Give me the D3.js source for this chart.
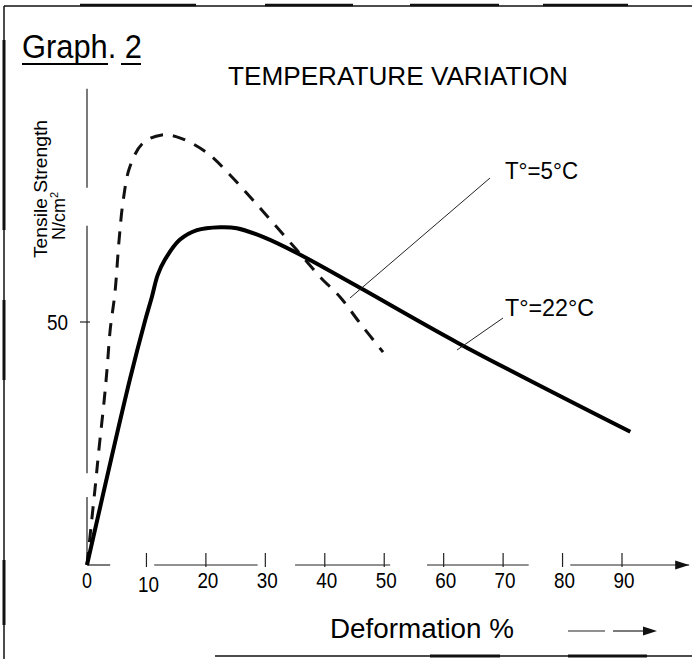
<!DOCTYPE html>
<html>
<head>
<meta charset="utf-8">
<script src="https://cdn.jsdelivr.net/npm/d3@7"></script>
<style>
  html, body { margin: 0; padding: 0; background: #fff; }
  svg { display: block; }
  text { font-family: "Liberation Sans", Arial, sans-serif; fill: #000; }
</style>
</head>
<body>
<svg id="chart" width="692" height="659"></svg>
<script>
// Deformation (%) axis ticks and tensile strength (N/cm²) ticks
const xTicks = [0, 10, 20, 30, 40, 50, 60, 70, 80, 90];
const yTicks = [50];

// T° = 5°C (dashed curve)
const strain5 = [0, 0.8, 1.5, 2.0, 2.9, 3.4, 3.9, 4.7, 5.4, 6.1, 7.2, 9.4, 12.6, 15.6, 20.2, 24.1, 27.9, 31.3, 35.3, 39.2, 42.6, 45.9, 49.8];
const stress5 = [0, 9.3, 17.5, 23.7, 34.0, 40.7, 48.4, 56.0, 66.9, 75.1, 81.9, 86.8, 88.5, 87.9, 84.8, 80.2, 75.1, 70.4, 64.8, 59.3, 55.1, 49.8, 43.8];

// T° = 22°C (solid curve)
const strain22 = [0, 7.2, 9.8, 10.9, 11.9, 13.1, 15.6, 18.5, 22.4, 25.2, 29.6, 35.3, 45.4, 62.4, 91.4];
const stress22 = [0, 38.1, 50.4, 55.1, 59.7, 62.8, 66.9, 68.9, 69.5, 69.3, 67.5, 64.2, 57.4, 45.7, 27.4];

// Hand-drawn axis: visible stretches of each axis line (data units)
const xAxisRuns = [[0, 3.9], [11.3, 28.7], [35, 51], [57.2, 74.3], [81.3, 101.3]];
const yAxisRuns = [[0, 14], [18.9, 69.8], [77.6, 98]];

const svg = d3.select("#chart");
const x = d3.scaleLinear().domain([0, 90]).range([87, 622]);
const y = d3.scaleLinear().domain([0, 50]).range([565, 322]);

// Frame
const frame = svg.append("g").attr("stroke", "#111").attr("fill", "none");
frame.append("line").attr("x1", 4).attr("y1", 6).attr("x2", 4).attr("y2", 659).attr("stroke-width", 1.5);
frame.append("line").attr("x1", 4).attr("y1", 40).attr("x2", 4).attr("y2", 230).attr("stroke-width", 3);
frame.append("line").attr("x1", 4).attr("y1", 300).attr("x2", 4).attr("y2", 380).attr("stroke-width", 3);
frame.append("line").attr("x1", 4).attr("y1", 560).attr("x2", 4).attr("y2", 625).attr("stroke-width", 3);
frame.append("line").attr("x1", 4).attr("y1", 6).attr("x2", 692).attr("y2", 6).attr("stroke-width", 1.5);
[[80, 196], [265, 353], [410, 499], [543, 628]].forEach(([a, b]) =>
  frame.append("line").attr("x1", a).attr("y1", 5).attr("x2", b).attr("y2", 5).attr("stroke-width", 2.5));
frame.append("line").attr("x1", 215).attr("y1", 656).attr("x2", 692).attr("y2", 656).attr("stroke-width", 1.5);
[[430, 500], [568, 647]].forEach(([a, b]) =>
  frame.append("line").attr("x1", a).attr("y1", 656).attr("x2", b).attr("y2", 656).attr("stroke-width", 3));

// Title
svg.append("text").attr("x", 22).attr("y", 58)
  .style("font-size", "33px").attr("textLength", 120).attr("lengthAdjust", "spacingAndGlyphs")
  .text("Graph. 2");
svg.append("line").attr("x1", 22).attr("x2", 108).attr("y1", 64).attr("y2", 64).attr("stroke", "#000").attr("stroke-width", 2);
svg.append("line").attr("x1", 121).attr("x2", 141).attr("y1", 64).attr("y2", 64).attr("stroke", "#000").attr("stroke-width", 2);

svg.append("text").attr("x", 228).attr("y", 85)
  .style("font-size", "26px").attr("textLength", 340).attr("lengthAdjust", "spacingAndGlyphs")
  .text("TEMPERATURE VARIATION");

// Axes
const axes = svg.append("g").attr("stroke", "#222").attr("stroke-width", 1.2).attr("fill", "none");
xAxisRuns.forEach(([a, b]) =>
  axes.append("line").attr("x1", x(a)).attr("x2", x(b)).attr("y1", y(0)).attr("y2", y(0)));
yAxisRuns.forEach(([a, b]) =>
  axes.append("line").attr("x1", x(0)).attr("x2", x(0)).attr("y1", y(a)).attr("y2", y(b)));

// x-axis arrowhead
const tipX = x(101.3), ay = y(0);
svg.append("path").attr("d", `M${tipX},${ay} L${tipX - 14},${ay - 4.5} L${tipX - 14},${ay + 4.5} Z`).attr("fill", "#111");

// x ticks (the first one is the origin corner)
xTicks.slice(1).forEach(t => {
  axes.append("line").attr("x1", x(t)).attr("x2", x(t)).attr("y1", y(0) - 12).attr("y2", y(0) + 2);
});
// x tick labels
svg.append("g").selectAll("text").data(xTicks).join("text")
  .attr("x", d => x(d) + (d === 0 ? 0 : 2))
  .attr("y", d => d === 10 ? 592 : 588)
  .attr("text-anchor", "middle")
  .style("font-size", "22px")
  .attr("textLength", d => d === 0 ? 10 : 21).attr("lengthAdjust", "spacingAndGlyphs")
  .text(d => d);

// y ticks and labels
yTicks.forEach(t => {
  axes.append("line").attr("x1", x(0) - 7).attr("x2", x(0) + 3).attr("y1", y(t)).attr("y2", y(t));
  svg.append("text").attr("x", 68).attr("y", y(t) + 8).attr("text-anchor", "end")
    .style("font-size", "22px").attr("textLength", 21).attr("lengthAdjust", "spacingAndGlyphs").text(t);
});

// Axis titles
svg.append("text").attr("transform", "translate(47,189) rotate(-90)")
  .attr("text-anchor", "middle").style("font-size", "18px")
  .attr("textLength", 138).attr("lengthAdjust", "spacingAndGlyphs")
  .text("Tensile Strength");
const unit = svg.append("text").attr("transform", "translate(65,216) rotate(-90)")
  .attr("text-anchor", "middle").style("font-size", "18px");
unit.append("tspan").text("N/cm");
unit.append("tspan").attr("dy", -7).style("font-size", "11px").text("2");

svg.append("text").attr("x", 330).attr("y", 638)
  .style("font-size", "27px").attr("textLength", 184).attr("lengthAdjust", "spacingAndGlyphs")
  .text("Deformation %");

// Direction arrow under the axis title
svg.append("line").attr("x1", 568).attr("x2", 605).attr("y1", 631).attr("y2", 631).attr("stroke", "#222").attr("stroke-width", 1.2);
svg.append("line").attr("x1", 613).attr("x2", 645).attr("y1", 631).attr("y2", 631).attr("stroke", "#222").attr("stroke-width", 1.2);
svg.append("path").attr("d", "M657,631 L643,626.5 L643,635.5 Z").attr("fill", "#111");

// Curves
const line = d3.line().x(d => x(d[0])).y(d => y(d[1])).curve(d3.curveCatmullRom.alpha(0.5));
svg.append("path")
  .datum(d3.zip(strain5, stress5))
  .attr("d", line)
  .attr("fill", "none").attr("stroke", "#111").attr("stroke-width", 3)
  .attr("stroke-dasharray", "13,10");
svg.append("path")
  .datum(d3.zip(strain22, stress22))
  .attr("d", line)
  .attr("fill", "none").attr("stroke", "#000").attr("stroke-width", 4)
  .attr("stroke-linejoin", "round");

// Curve labels with leader lines
const leaders = svg.append("g").attr("stroke", "#222").attr("stroke-width", 1);
leaders.append("line").attr("x1", 490).attr("y1", 178).attr("x2", 350).attr("y2", 298);
leaders.append("line").attr("x1", 503).attr("y1", 318).attr("x2", 457).attr("y2", 350);
svg.append("text").attr("x", 505).attr("y", 179).style("font-size", "23px")
  .attr("textLength", 73).attr("lengthAdjust", "spacingAndGlyphs").text("T°=5°C");
svg.append("text").attr("x", 505).attr("y", 316).style("font-size", "23px")
  .attr("textLength", 89).attr("lengthAdjust", "spacingAndGlyphs").text("T°=22°C");
</script>
</body>
</html>
